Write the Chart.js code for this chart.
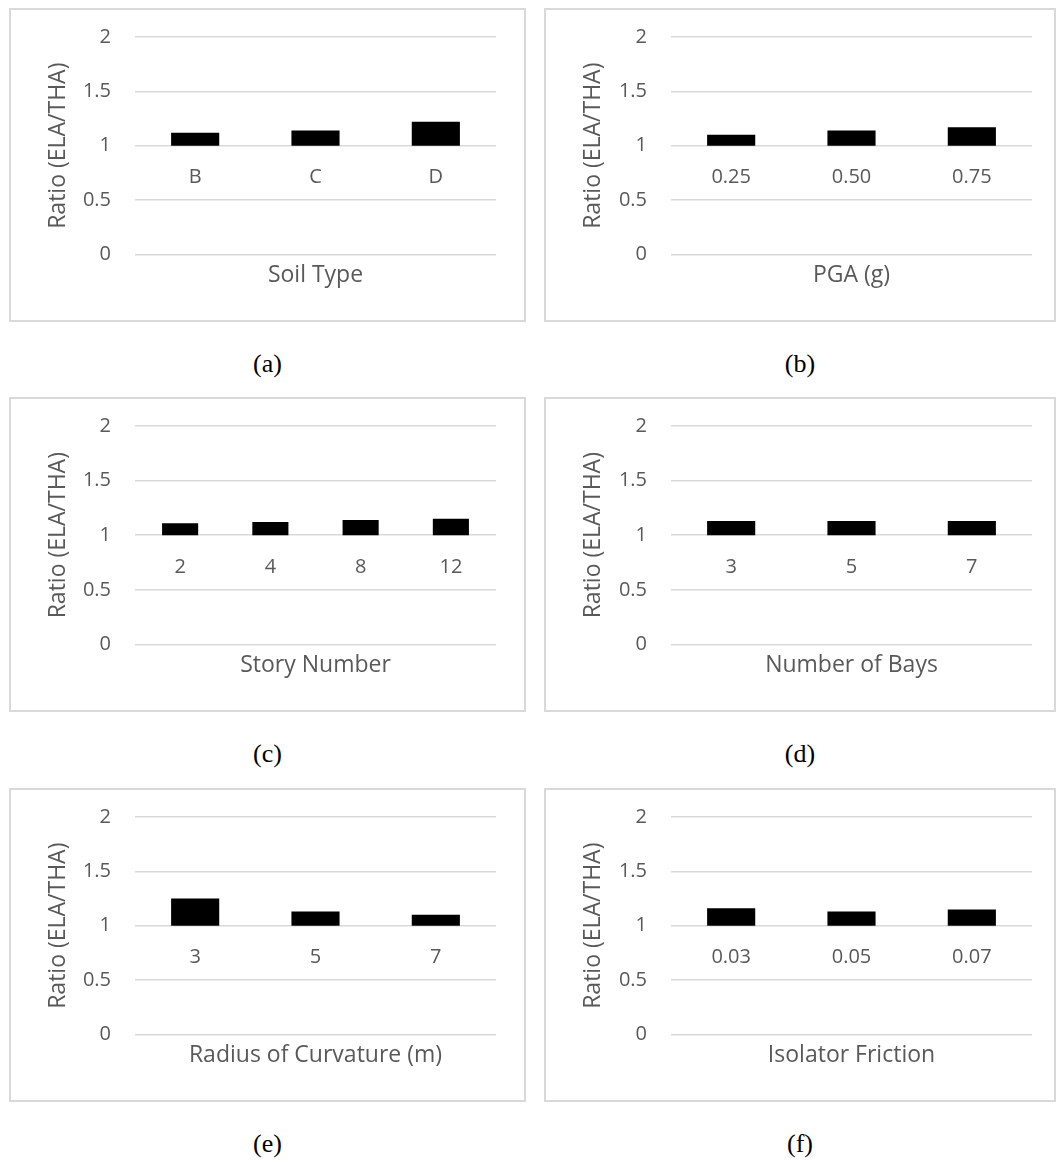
<!DOCTYPE html>
<html>
<head>
<meta charset="utf-8">
<script src="https://cdn.jsdelivr.net/npm/chart.js@4.4.1/dist/chart.umd.min.js"></script>
<style>
    body { margin: 0; background: #fff; width: 1056px; height: 1162px; position: relative; overflow: hidden; }
    .panel { position: absolute; border: 2px solid #d9d9d9; box-sizing: border-box; background: #fff; }
    .panel canvas { position: absolute; left: 0; top: 0; }
    .caption { position: absolute; width: 120px; text-align: center; font-family: "Liberation Serif", "Times New Roman", serif; font-size: 26px; color: #000; line-height: 30px; }
</style>
</head>
<body>
<div id="charts"></div>
<script>
// 数据
const BASE_LINE = 1;   // 横轴与纵轴交于 1
const Y_MIN = 0;
const Y_MAX = 2;
const Y_STEP = 0.5;
const Y_TITLE = 'Ratio (ELA/THA)';

const soilTypes = ['B', 'C', 'D'];
const soilRatio = [1.12, 1.14, 1.22];

const pgaLevels = ['0.25', '0.50', '0.75'];
const pgaRatio = [1.10, 1.14, 1.17];

const storyNumbers = ['2', '4', '8', '12'];
const storyRatio = [1.11, 1.12, 1.14, 1.15];

const bayNumbers = ['3', '5', '7'];
const bayRatio = [1.13, 1.13, 1.13];

const curvatureRadii = ['3', '5', '7'];
const curvatureRatio = [1.25, 1.13, 1.10];

const frictionLevels = ['0.03', '0.05', '0.07'];
const frictionRatio = [1.16, 1.13, 1.15];

const TEXT_COLOR = '#595959';
const GRID_COLOR = '#d9d9d9';
const FONT = '"Open Sans", "Noto Sans", sans-serif';

// 面板布局
const panels = [
    { id: 'a', title: 'Soil Type', labels: soilTypes, values: soilRatio, left: 9, top: 8, width: 517, height: 314, padRight: 28, axisWidth: 89 },
    { id: 'b', title: 'PGA (g)', labels: pgaLevels, values: pgaRatio, left: 544, top: 8, width: 512, height: 314, padRight: 22, axisWidth: 90 },
    { id: 'c', title: 'Story Number', labels: storyNumbers, values: storyRatio, left: 9, top: 397, width: 517, height: 315, padRight: 28, axisWidth: 89 },
    { id: 'd', title: 'Number of Bays', labels: bayNumbers, values: bayRatio, left: 544, top: 397, width: 512, height: 315, padRight: 22, axisWidth: 90 },
    { id: 'e', title: 'Radius of Curvature (m)', labels: curvatureRadii, values: curvatureRatio, left: 9, top: 788, width: 517, height: 314, padRight: 28, axisWidth: 89 },
    { id: 'f', title: 'Isolator Friction', labels: frictionLevels, values: frictionRatio, left: 544, top: 788, width: 512, height: 314, padRight: 22, axisWidth: 90 }
];

// 固定纵轴宽度, 并去掉刻度间距带来的上下留白
function fixYAxis(scale, width) {
    scale.width = width;
    scale.paddingTop = 12;
    scale.paddingBottom = 12;
}

// 创建单个图表
function createPanel(p) {
    const container = document.getElementById('charts');

    const box = document.createElement('div');
    box.className = 'panel';
    box.style.left = p.left + 'px';
    box.style.top = p.top + 'px';
    box.style.width = p.width + 'px';
    box.style.height = p.height + 'px';

    const canvas = document.createElement('canvas');
    canvas.width = p.width - 4;
    canvas.height = p.height - 4;
    canvas.style.width = (p.width - 4) + 'px';
    canvas.style.height = (p.height - 4) + 'px';
    box.appendChild(canvas);
    container.appendChild(box);

    const caption = document.createElement('div');
    caption.className = 'caption';
    caption.textContent = '(' + p.id + ')';
    caption.style.left = (p.left + p.width / 2 - 60) + 'px';
    caption.style.top = (p.top + p.height + 27) + 'px';
    container.appendChild(caption);

    new Chart(canvas.getContext('2d'), {
        type: 'bar',
        data: {
            labels: p.labels,
            datasets: [{
                data: p.values.map(v => [BASE_LINE, v]),
                backgroundColor: '#000000',
                borderWidth: 0,
                borderSkipped: false,
                barPercentage: 0.4,
                categoryPercentage: 1.0,
                xAxisID: 'x',
                yAxisID: 'y'
            }]
        },
        options: {
            responsive: false,
            animation: false,
            events: [],
            layout: {
                padding: { left: 34, right: p.padRight, top: 27, bottom: 31 }
            },
            plugins: {
                legend: { display: false },
                tooltip: { enabled: false }
            },
            scales: {
                x: {
                    type: 'category',
                    position: { y: BASE_LINE },
                    grid: { display: false, drawTicks: false },
                    border: { display: false },
                    ticks: {
                        color: TEXT_COLOR,
                        font: { family: FONT, size: 20 },
                        padding: 20
                    }
                },
                xTitle: {
                    type: 'category',
                    position: 'bottom',
                    labels: p.labels,
                    grid: { display: false, drawTicks: false },
                    border: { display: false },
                    ticks: { display: false },
                    title: {
                        display: true,
                        text: p.title,
                        color: TEXT_COLOR,
                        font: { family: FONT, size: 23 },
                        padding: { top: 7, bottom: 0 }
                    }
                },
                y: {
                    min: Y_MIN,
                    max: Y_MAX,
                    afterFit: scale => fixYAxis(scale, p.axisWidth + 1),
                    ticks: {
                        stepSize: Y_STEP,
                        color: TEXT_COLOR,
                        font: { family: FONT, size: 20 },
                        padding: 24,
                        callback: v => String(Number(v))
                    },
                    grid: { color: GRID_COLOR, lineWidth: 1.5, drawTicks: false },
                    border: { display: false },
                    title: {
                        display: true,
                        text: Y_TITLE,
                        color: TEXT_COLOR,
                        font: { family: FONT, size: 23 },
                        padding: { top: 0, bottom: 12 }
                    }
                }
            }
        }
    });
}

panels.forEach(createPanel);
</script>
</body>
</html>
